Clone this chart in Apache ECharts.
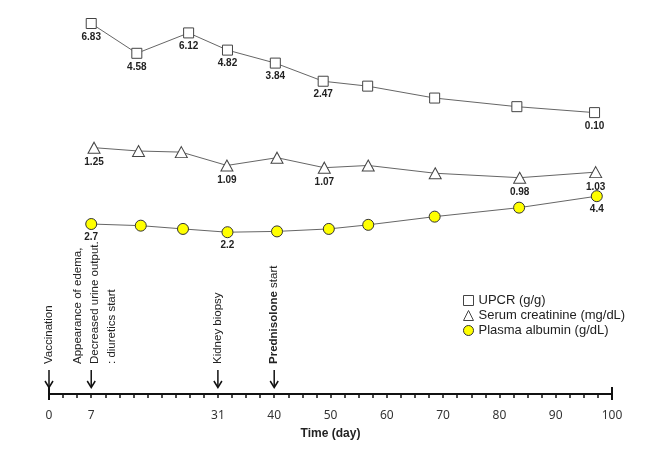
<!DOCTYPE html>
<html>
<head>
<meta charset="utf-8">
<script src="https://cdn.jsdelivr.net/npm/echarts@6/dist/echarts.min.js"></script>
<style>
html,body{margin:0;padding:0;background:#fff;}
#chart{width:658px;height:451px;}
</style>
</head>
<body>
<div id="chart"></div>
<script>
// ---- data ----
var seriesNames = ['UPCR (g/g)', 'Serum creatinine (mg/dL)', 'Plasma albumin (g/dL)'];
var upcrDays = [7.5, 15.6, 24.8, 31.7, 40.2, 48.7, 56.6, 68.5, 83.1, 96.9];
var upcrValues = [6.83, 4.58, 6.12, 4.82, 3.84, 2.47, 2.1, 1.2, 0.55, 0.10];
var upcrLabels = ['6.83', '4.58', '6.12', '4.82', '3.84', '2.47', '', '', '', '0.10'];
var creatDays = [8.0, 15.9, 23.5, 31.6, 40.5, 48.9, 56.7, 68.6, 83.6, 97.1];
var creatValues = [1.25, 1.22, 1.21, 1.09, 1.16, 1.07, 1.09, 1.02, 0.98, 1.03];
var creatLabels = ['1.25', '', '', '1.09', '', '1.07', '', '', '0.98', '1.03'];
var albDays = [7.5, 16.3, 23.8, 31.7, 40.5, 49.7, 56.7, 68.5, 83.5, 97.3];
var albValues = [2.7, 2.6, 2.4, 2.2, 2.25, 2.4, 2.65, 3.15, 3.7, 4.4];
var albLabels = ['2.7', '', '', '2.2', '', '', '', '', '', '4.4'];
var tickDays = [0, 7.5, 30, 40, 50, 60, 70, 80, 90, 100];
var tickLabels = ['0', '7', '31', '40', '50', '60', '70', '80', '90', '100'];
var eventDays = [0, 7.5, 30, 40];
var eventTexts = [
  'Vaccination',
  'Appearance of edema,\nDecreased urine output.\n: diuretics start',
  'Kidney biopsy',
  '{b|Prednisolone} start'
];

function pairs(xs, ys, labels) {
  return xs.map(function (x, i) {
    return { value: [x, ys[i]], label: { show: labels[i] !== '', formatter: labels[i] } };
  });
}

var chart = echarts.init(document.getElementById('chart'));
var labelStyle = { position: 'bottom', fontSize: 10, fontWeight: 'bold', color: '#222', fontFamily: 'Liberation Sans' };
var lineStyle = { color: '#666', width: 1 };

var option = {
  animation: false,
  backgroundColor: '#fff',
  grid: { left: 49, right: 46, top: 10, bottom: 57 },
  legend: {
    orient: 'vertical', left: 458, top: 289,
    itemWidth: 10, itemHeight: 10, itemGap: 2,
    textStyle: { fontSize: 13, color: '#222', fontFamily: 'Liberation Sans', lineHeight: 13 },
    data: [
      { name: seriesNames[0], icon: 'rect', itemStyle: { color: '#fff', borderColor: '#444', borderWidth: 1 } },
      { name: seriesNames[1], icon: 'triangle', itemStyle: { color: '#fff', borderColor: '#444', borderWidth: 1 } },
      { name: seriesNames[2], icon: 'circle', itemStyle: { color: '#ffff00', borderColor: '#333', borderWidth: 1 } }
    ]
  },
  xAxis: {
    type: 'value', min: 0, max: 100, interval: 2.5,
    name: 'Time (day)', nameLocation: 'middle', nameGap: 34,
    nameTextStyle: { fontSize: 12, fontWeight: 'bold', color: '#222', fontFamily: 'Liberation Sans' },
    axisLine: { show: true, onZero: false, lineStyle: { color: '#111', width: 2 } },
    axisTick: { show: true, length: 4, lineStyle: { color: '#111', width: 1.5 } },
    splitLine: { show: false },
    axisLabel: {
      margin: 16, fontSize: 12, color: '#333', fontFamily: 'Noto Sans',
      showMinLabel: true, showMaxLabel: true,
      formatter: function (v) {
        for (var i = 0; i < tickDays.length; i++) {
          if (Math.abs(tickDays[i] - v) < 1e-6) return tickLabels[i];
        }
        return '';
      }
    }
  },
  yAxis: [
    { type: 'value', show: false, min: -21.15, max: 7.85, splitLine: { show: false } },
    { type: 'value', show: false, min: -0.965, max: 2.488, splitLine: { show: false } },
    { type: 'value', show: false, min: -7.68, max: 15.77, splitLine: { show: false } }
  ],
  series: [
    {
      name: seriesNames[0], type: 'line', yAxisIndex: 0,
      data: pairs(upcrDays, upcrValues, upcrLabels),
      symbol: 'rect', symbolSize: 10,
      itemStyle: { color: '#fff', borderColor: '#444', borderWidth: 1 },
      lineStyle: lineStyle,
      label: Object.assign({ distance: 3 }, labelStyle)
    },
    {
      name: seriesNames[1], type: 'line', yAxisIndex: 1,
      data: pairs(creatDays, creatValues, creatLabels),
      symbol: 'triangle', symbolSize: [12, 11],
      itemStyle: { color: '#fff', borderColor: '#444', borderWidth: 1 },
      lineStyle: lineStyle,
      label: Object.assign({ distance: 4 }, labelStyle)
    },
    {
      name: seriesNames[2], type: 'line', yAxisIndex: 2,
      data: pairs(albDays, albValues, albLabels),
      symbol: 'circle', symbolSize: 11,
      itemStyle: { color: '#ffff00', borderColor: '#333', borderWidth: 1 },
      lineStyle: lineStyle,
      label: Object.assign({ distance: 2 }, labelStyle)
    }
  ]
};
chart.setOption(option);

// annotations: rotated event texts with down arrows, and end caps of the axis
var graphics = [];
eventDays.forEach(function (d, i) {
  var x = chart.convertToPixel({ xAxisIndex: 0 }, d);
  var nLines = eventTexts[i].split('\n').length;
  var textX = x + (nLines > 1 ? 4 : 0);
  graphics.push({
    type: 'text', x: textX, y: 364, rotation: Math.PI / 2,
    style: {
      text: eventTexts[i], align: 'left', verticalAlign: 'middle',
      font: '11.5px "Liberation Sans"', fill: '#222', lineHeight: 17,
      rich: { b: { fontWeight: 'bold', fontSize: 11.5, fontFamily: 'Liberation Sans', fill: '#222' } }
    }
  });
  graphics.push({ type: 'line', shape: { x1: x, y1: 370, x2: x, y2: 387 }, style: { stroke: '#111', lineWidth: 1.5 } });
  graphics.push({ type: 'polyline', shape: { points: [[x - 4, 381], [x, 387.5], [x + 4, 381]] }, style: { stroke: '#111', lineWidth: 1.5, fill: null } });
});
[0, 100].forEach(function (d) {
  var x = chart.convertToPixel({ xAxisIndex: 0 }, d);
  graphics.push({ type: 'line', shape: { x1: x, y1: 387, x2: x, y2: 400 }, style: { stroke: '#111', lineWidth: 2 } });
});
chart.setOption({ graphic: graphics });
</script>
</body>
</html>
